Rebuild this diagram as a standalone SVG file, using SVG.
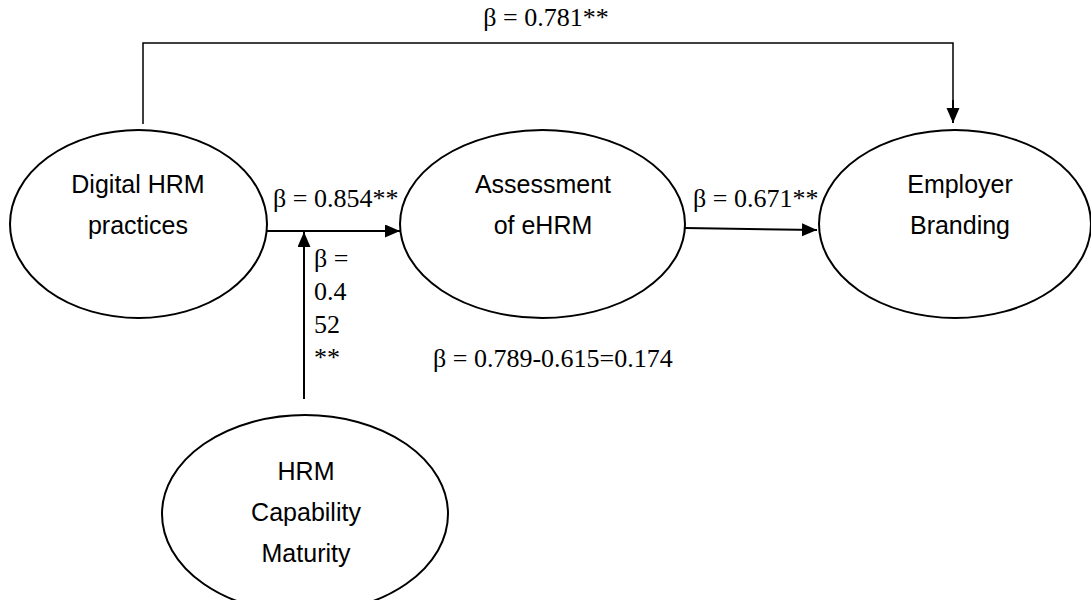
<svg xmlns="http://www.w3.org/2000/svg" width="1091" height="600" viewBox="0 0 1091 600">
<defs>
<style>
.node{fill:#fff;stroke:#000;stroke-width:2}
.nt{font-family:"Liberation Sans",Arial,sans-serif;font-size:25px;fill:#000;text-anchor:middle}
.lb{font-family:"Liberation Serif","Times New Roman",serif;font-size:26px;fill:#000}
.ar{fill:none;stroke:#000;stroke-width:2}
.ln{fill:none;stroke:#000;stroke-width:1.5}
</style>
<marker id="ah" markerUnits="userSpaceOnUse" markerWidth="16" markerHeight="14" refX="15" refY="6.5" orient="auto"><path d="M0,0 L15,6.5 L0,13 Z" fill="#000"/></marker>
</defs>
<rect width="1091" height="600" fill="#fff"/>
<g id="connectors">
<path class="ln" d="M143,124 V43 H953 V108" />
<path class="ar" d="M953,100 V123" marker-end="url(#ah)"/>
<path class="ar" d="M267,231 H400" marker-end="url(#ah)"/>
<path class="ar" d="M685,228 L817,230" marker-end="url(#ah)"/>
<path class="ar" d="M304,399 V232" marker-end="url(#ah)"/>
</g>
<g id="node-digital">
<ellipse class="node" cx="138.5" cy="224" rx="128.5" ry="94"/>
<text class="nt" x="138" y="193">Digital HRM</text>
<text class="nt" x="138" y="234">practices</text>
</g>
<g id="node-assessment">
<ellipse class="node" cx="542.5" cy="224" rx="142.5" ry="94"/>
<text class="nt" x="543" y="193">Assessment</text>
<text class="nt" x="543" y="234">of eHRM</text>
</g>
<g id="node-employer">
<ellipse class="node" cx="955" cy="224" rx="136" ry="94"/>
<text class="nt" x="960" y="193">Employer</text>
<text class="nt" x="960" y="234">Branding</text>
</g>
<g id="node-hrm">
<ellipse class="node" cx="305" cy="514" rx="143" ry="99"/>
<text class="nt" x="306" y="480">HRM</text>
<text class="nt" x="306" y="521">Capability</text>
<text class="nt" x="306" y="562">Maturity</text>
</g>
<g id="labels">
<text class="lb" x="546" y="26" text-anchor="middle">β = 0.781**</text>
<text class="lb" x="273" y="207">β = 0.854**</text>
<text class="lb" x="693" y="207">β = 0.671**</text>
<text class="lb" x="314" y="267">β =</text>
<text class="lb" x="314" y="300">0.4</text>
<text class="lb" x="314" y="333">52</text>
<text class="lb" x="314" y="366">**</text>
<text class="lb" x="433" y="367">β = 0.789-0.615=0.174</text>
</g>
</svg>
